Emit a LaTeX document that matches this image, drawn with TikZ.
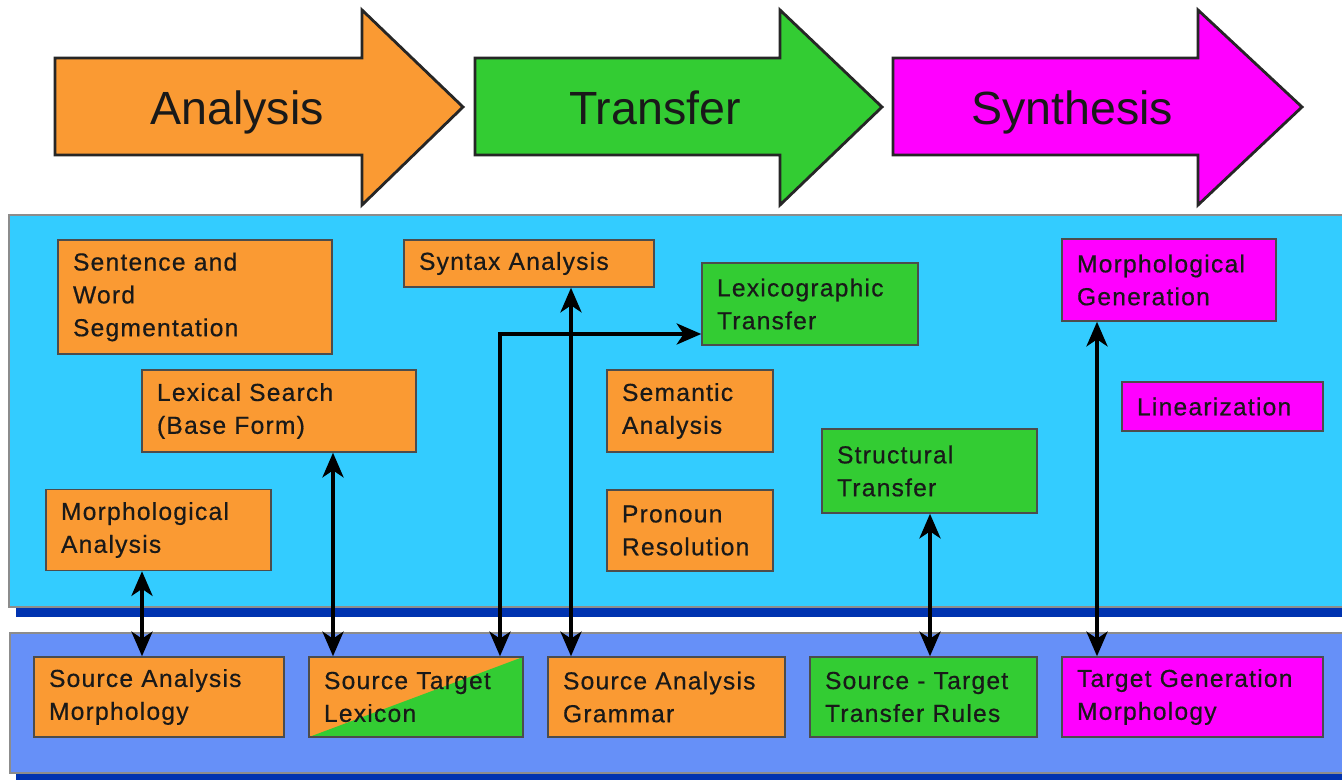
\documentclass[tikz,border=0pt]{standalone}
\usepackage{fontspec}
\setmainfont{Liberation Sans}
\newfontfamily\boxfont{Liberation Sans}[LetterSpace=5,FakeBold=0.5]
\usetikzlibrary{arrows.meta}
\definecolor{cor}{HTML}{FA9A33}
\definecolor{cgr}{HTML}{33CC33}
\definecolor{cmg}{HTML}{FF00FF}
\definecolor{clb}{HTML}{33CCFF}
\definecolor{cbp}{HTML}{6690F8}
\definecolor{cdb}{HTML}{0033B0}
\tikzset{
  box/.style={draw=black!70, line width=0.9pt, rectangle, align=left, inner xsep=0.3cm,
     font=\boxfont\fontsize{14}{18.7}\selectfont, text=black!90},
  tip/.tip={Stealth[length=14pt,width=12pt,inset=4pt]},
  conn/.style={line width=2.1pt, tip-tip},
  bigarrow/.style={draw=black!85, line width=1.6pt, line join=miter},
  bigtext/.style={font=\fontsize{26.5}{30}\selectfont, anchor=base, text=black!90}
}
\begin{document}
\begin{tikzpicture}[x=0.02cm, y=-0.02cm]
\useasboundingbox (0,0) rectangle (1342,780);
\clip (0,0) rectangle (1342,780);
\fill[white] (0,0) rectangle (1342,780);
% big arrows
\filldraw[bigarrow, fill=cor] (55,58) -- (362,58) -- (362,10) -- (463,107) -- (362,205) -- (362,155) -- (55,155) -- cycle;
\filldraw[bigarrow, fill=cgr] (475,58) -- (780,58) -- (780,10) -- (882,107) -- (780,205) -- (780,155) -- (475,155) -- cycle;
\filldraw[bigarrow, fill=cmg] (893,58) -- (1198,58) -- (1198,10) -- (1302,107) -- (1198,205) -- (1198,155) -- (893,155) -- cycle;
\node[bigtext] (ana) at (237,125) {Analysis};
\node[bigtext] (tra) at (655,125) {Transfer};
\node[bigtext] (syn) at (1072,125) {Synthesis};
% panels
\fill[cdb] (16,600) rectangle (1360,617);
\filldraw[fill=clb, draw=black!45, line width=0.8pt] (9,215) rectangle (1360,607);
\fill[cdb] (16,765) rectangle (1360,790);
\filldraw[fill=cbp, draw=black!45, line width=0.8pt] (10,633) rectangle (1360,773);
% upper boxes
\node[box, fill=cor, minimum height=2.28cm, text width=4.88cm] (sent) at (195,297) {Sentence and\\Word\\Segmentation};
\node[box, fill=cor, minimum height=1.64cm, text width=4.88cm] (lex) at (279,411) {Lexical Search\\(Base Form)};
\node[box, fill=cor, minimum height=1.62cm, text width=3.90cm] (morphA) at (158.5,530) {Morphological\\Analysis};
\node[box, fill=cor, minimum height=0.94cm, text width=4.40cm] (syntax) at (529,263.5) {Syntax Analysis};
\node[box, fill=cgr, minimum height=1.64cm, text width=3.72cm] (lexT) at (810,304) {Lexicographic\\Transfer};
\node[box, fill=cor, minimum height=1.64cm, text width=2.72cm] (sem) at (690,411) {Semantic\\Analysis};
\node[box, fill=cor, minimum height=1.62cm, text width=2.72cm] (pron) at (690,530.5) {Pronoun\\Resolution};
\node[box, fill=cgr, minimum height=1.68cm, text width=3.70cm] (struct) at (929.5,471) {Structural\\Transfer};
\node[box, fill=cmg, minimum height=1.64cm, text width=3.68cm] (mgen) at (1169,280) {Morphological\\Generation};
\node[box, fill=cmg, minimum height=0.98cm, text width=3.42cm] (lin) at (1222.5,406.5) {Linearization};
% lower boxes
\node[box, fill=cor, minimum height=1.60cm, text width=4.40cm] (sam) at (159,697) {Source Analysis\\Morphology};
\path[fill=cor] (309,657) rectangle (523,737);
\fill[cgr] (309,737) -- (523,657) -- (523,737) -- cycle;
\node[box, minimum height=1.60cm, text width=3.68cm] (stl) at (416,697) {Source Target\\Lexicon};
\node[box, fill=cor, minimum height=1.60cm, text width=4.14cm] (sag) at (666.5,697) {Source Analysis\\Grammar};
\node[box, fill=cgr, minimum height=1.60cm, text width=3.94cm] (sttr) at (923.5,697) {Source - Target\\Transfer Rules};
\node[box, fill=cmg, minimum height=1.60cm, text width=4.62cm] (tgm) at (1192.5,697) {Target Generation\\Morphology};
% connectors
\draw[conn] (morphA.south -| 142,0) -- (sam.north -| 142,0);
\draw[conn] (lex.south -| 333,0) -- (stl.north -| 333,0);
\draw[conn] (syntax.south -| 571,0) -- (sag.north -| 571,0);
\draw[conn] (stl.north -| 500,0) |- (lexT.west |- 0,334);
\draw[conn] (struct.south -| 930,0) -- (sttr.north -| 930,0);
\draw[conn] (mgen.south -| 1097,0) -- (tgm.north -| 1097,0);
\end{tikzpicture}
\end{document}
